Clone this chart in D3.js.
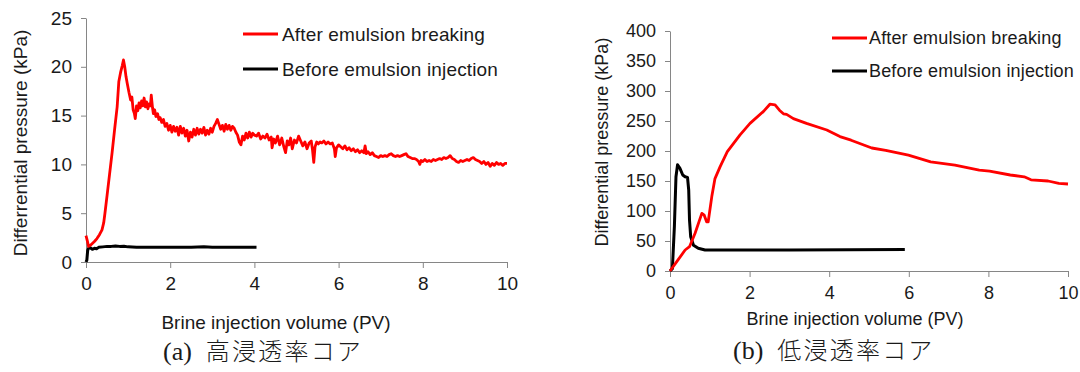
<!DOCTYPE html>
<html>
<head>
<meta charset="utf-8">
<script src="https://cdn.jsdelivr.net/npm/d3@7"></script>
<style>
  body { margin: 0; background: #fff; }
  text { font-family: "Liberation Sans", Arial, sans-serif; fill: #1a1a1a; }
  .axis path, .axis line { stroke: #868686; }
</style>
</head>
<body>
<svg id="chart" width="1080" height="372"></svg>
<script>
// panel (a) high permeability core
const afterA = [
  [0,2.7],[0.03,2.2],[0.06,1.6],[0.1,1.7],[0.15,1.9],[0.2,2.1],[0.26,2.4],[0.32,2.8],[0.38,3.3],[0.42,4.0],
  [0.45,5.0],[0.5,6.8],[0.56,9.0],[0.62,11.2],[0.68,13.6],[0.74,15.9],[0.78,18.5],[0.82,19.4],[0.86,20.1],[0.89,20.7],
  [0.92,20.0],[0.95,19.0],[0.98,18.3],[1.02,17.4],[1.06,16.6],[1.09,16.9],[1.12,15.6],[1.15,15.2],[1.17,14.7],[1.2,16.0],
  [1.23,15.5],[1.26,16.3],[1.29,15.8],[1.32,16.5],[1.35,16.0],[1.38,16.8],[1.41,15.9],[1.44,16.4],[1.47,15.7],[1.5,16.2],
  [1.53,16.0],[1.55,17.1],[1.58,15.8],[1.6,15.2],[1.63,15.6],[1.66,14.9],[1.7,15.2],[1.73,14.6],[1.76,14.8],[1.8,14.3],
  [1.84,14.6],[1.88,13.9],[1.92,14.2],[1.96,13.5],[2.0,14.0],[2.04,13.3],[2.08,13.9],[2.12,13.4],[2.16,13.8],[2.2,13.0],
  [2.24,13.9],[2.28,13.2],[2.32,13.7],[2.36,12.9],[2.4,13.5],[2.44,12.4],[2.48,13.3],[2.52,12.8],[2.56,13.6],[2.6,13.0],
  [2.64,13.7],[2.68,13.1],[2.72,13.6],[2.76,13.2],[2.8,13.8],[2.84,13.0],[2.88,13.5],[2.92,13.1],[2.96,13.7],[3.0,13.3],
  [3.04,13.9],[3.08,14.2],[3.12,14.6],[3.16,14.1],[3.2,13.6],[3.24,14.0],[3.28,13.4],[3.32,14.1],[3.36,13.6],[3.4,14.0],
  [3.44,13.5],[3.48,13.9],[3.52,13.7],[3.56,13.3],[3.6,13.0],[3.64,12.3],[3.68,12.0],[3.72,12.9],[3.76,12.5],[3.8,13.2],
  [3.84,12.7],[3.88,13.3],[3.92,12.8],[3.96,13.2],[4.0,13.0],[4.05,12.9],[4.1,13.2],[4.15,12.6],[4.2,12.9],[4.25,12.7],
  [4.3,13.1],[4.35,12.5],[4.4,12.8],[4.42,11.7],[4.46,12.6],[4.5,12.2],[4.55,12.9],[4.6,12.0],[4.65,12.7],[4.7,11.8],
  [4.74,11.2],[4.78,12.4],[4.82,12.0],[4.86,12.7],[4.9,11.6],[4.95,12.5],[5.0,12.2],[5.05,12.9],[5.1,12.4],[5.15,11.9],
  [5.2,12.3],[5.25,11.6],[5.3,12.2],[5.35,12.4],[5.38,11.5],[5.41,10.2],[5.44,11.8],[5.48,12.3],[5.52,12.1],[5.56,12.3],
  [5.6,12.2],[5.65,12.4],[5.7,12.1],[5.75,12.3],[5.8,12.1],[5.85,12.2],[5.9,11.6],[5.92,10.8],[5.95,11.7],[6.0,12.0],
  [6.05,11.8],[6.1,11.6],[6.15,11.9],[6.2,11.5],[6.25,11.7],[6.3,11.4],[6.35,11.6],[6.4,11.3],[6.45,11.5],[6.5,11.2],
  [6.55,11.4],[6.6,11.2],[6.63,11.9],[6.66,11.1],[6.7,11.3],[6.75,11.0],[6.8,11.2],[6.85,10.9],[6.9,10.8],[6.95,10.7],
  [7.0,10.9],[7.05,10.8],[7.1,10.9],[7.15,10.8],[7.2,11.0],[7.25,11.1],[7.3,10.9],[7.35,10.8],[7.4,10.9],[7.45,10.8],
  [7.5,10.9],[7.55,11.0],[7.6,11.1],[7.65,10.8],[7.7,10.7],[7.75,10.6],[7.8,10.6],[7.85,10.5],[7.9,10.3],[7.93,10.0],
  [7.96,10.4],[8.0,10.3],[8.05,10.5],[8.1,10.3],[8.15,10.4],[8.2,10.3],[8.25,10.5],[8.3,10.4],[8.35,10.5],[8.4,10.6],
  [8.45,10.5],[8.5,10.7],[8.55,10.6],[8.6,10.7],[8.65,10.9],[8.7,10.6],[8.75,10.5],[8.8,10.3],[8.85,10.2],[8.9,10.4],
  [8.95,10.3],[9.0,10.4],[9.05,10.5],[9.1,10.4],[9.15,10.6],[9.2,10.7],[9.25,10.5],[9.3,10.4],[9.35,10.3],[9.4,10.1],
  [9.45,10.3],[9.5,10.0],[9.55,10.2],[9.6,9.8],[9.65,10.1],[9.7,9.9],[9.75,10.2],[9.8,10.0],[9.85,10.1],[9.9,9.9],
  [9.95,10.1],[10.0,10.1]
]
const beforeA = [
  [0,0],[0.02,0.2],[0.04,1.2],[0.06,1.4],[0.1,1.45],[0.15,1.3],[0.2,1.4],[0.25,1.35],[0.3,1.5],[0.4,1.55],
  [0.5,1.6],[0.6,1.6],[0.7,1.65],[0.8,1.6],[0.9,1.62],[1.0,1.55],[1.2,1.52],[1.5,1.5],[2.0,1.5],[2.5,1.52],
  [2.8,1.55],[3.0,1.5],[3.5,1.52],[4.0,1.5],[4.05,1.5]
]

// panel (b) low permeability core
const afterB = [
  [0,0],[0.17,15.6],[0.38,35],[0.49,40.5],[0.63,62.8],[0.8,96],[0.86,93],[0.92,82],[0.96,82],[1.05,124],
  [1.13,154],[1.26,174],[1.44,199],[1.76,227],[2.01,246],[2.35,266],[2.51,278],[2.64,277],[2.75,268],[2.85,262],
  [2.93,261],[3.1,254],[3.43,246],[3.94,235],[4.27,224],[4.55,218],[5.07,205],[5.42,201],[5.99,193],[6.55,182],
  [7.16,176.5],[7.77,168],[8.03,166.6],[8.55,160],[8.9,157],[9.07,152],[9.5,150],[9.77,146],[10,145]
]
const beforeB = [
  [0,0],[0.06,4],[0.11,74],[0.15,157],[0.19,177],[0.25,171],[0.32,160],[0.38,157],[0.44,156],[0.47,135],
  [0.49,85],[0.52,57],[0.59,43],[0.71,38],[0.88,35],[1.5,35],[3,35],[4.5,35.5],[5.9,36]
]

const xTicks = [0, 2, 4, 6, 8, 10]
const yTicksA = [0, 5, 10, 15, 20, 25]
const yTicksB = [0, 50, 100, 150, 200, 250, 300, 350, 400]
const legendNames = ['After emulsion breaking', 'Before emulsion injection']
const xTitle = 'Brine injection volume (PV)'
const yTitleA = 'Differrential pressure (kPa)'
const yTitleB = 'Differential pressure (kPa)'
const captionA = ['(a)', '高浸透率コア']
const captionB = ['(b)', '低浸透率コア']

const svg = d3.select('#chart')

function panel(o) {
  const x = d3.scaleLinear().domain([0, 10]).range(o.xr)
  const y = d3.scaleLinear().domain(o.yd).range(o.yr)
  const g = svg.append('g')

  g.append('g')
      .attr('class', 'axis')
      .attr('transform', 'translate(0,' + o.yr[0] + ')')
      .call(d3.axisBottom(x).tickValues(xTicks).tickSize(6).tickPadding(o.xpad).tickSizeOuter(0))
      .call(a => a.selectAll('text').attr('font-size', o.fs).attr('fill', '#1a1a1a'))

  g.append('g')
      .attr('class', 'axis')
      .attr('transform', 'translate(' + o.xr[0] + ',0)')
      .call(d3.axisLeft(y).tickValues(o.yt).tickSize(5).tickPadding(9).tickSizeOuter(0))
      .call(a => a.selectAll('text').attr('font-size', o.fs).attr('fill', '#1a1a1a'))

  const line = d3.line().x(d => x(d[0])).y(d => y(d[1]))
  g.append('path').datum(o.before).attr('d', line)
      .attr('fill', 'none').attr('stroke', '#000').attr('stroke-width', 3).attr('stroke-linejoin', 'round')
  g.append('path').datum(o.after).attr('d', line)
      .attr('fill', 'none').attr('stroke', '#ff0000').attr('stroke-width', 2.8).attr('stroke-linejoin', 'round')

  // legend
  const colors = ['#ff0000', '#000']
  legendNames.forEach((name, i) => {
    const ly = o.leg[1] + i * o.leg[3]
    g.append('line').attr('x1', o.leg[0]).attr('x2', o.leg[0] + 35).attr('y1', ly).attr('y2', ly)
        .attr('stroke', colors[i]).attr('stroke-width', 3)
    g.append('text').attr('x', o.leg[2]).attr('y', ly).attr('dy', '0.35em')
        .attr('font-size', o.fs).attr('letter-spacing', 0.15).text(name)
  })

  g.append('text')
      .attr('x', o.xt[0]).attr('y', o.xt[1]).attr('dy', '0.35em')
      .attr('text-anchor', 'middle').attr('font-size', o.fs)
      .text(xTitle)

  g.append('text')
      .attr('transform', 'translate(' + o.yti[0] + ',' + o.yti[1] + ') rotate(-90)')
      .attr('dy', '0.35em')
      .attr('text-anchor', 'middle').attr('font-size', o.fs)
      .text(o.ytitle)

  // caption: serif label plus Japanese core name
  const cap = g.append('text')
      .attr('x', o.cap[0]).attr('y', o.cap[1]).attr('dy', '0.35em')
  cap.append('tspan').attr('font-family', '"Liberation Serif", serif').attr('font-size', 26).text(o.caption[0])
  cap.append('tspan').attr('dx', 14).attr('font-family', '"Noto Sans CJK JP", sans-serif')
      .attr('font-size', 24).attr('font-weight', 300).attr('letter-spacing', 2.2).text(o.caption[1])
}

panel({
  xr: [86, 507], yr: [262, 18], yd: [0, 25], yt: yTicksA, fs: 19, xpad: 9,
  after: afterA, before: beforeA,
  leg: [243, 34, 282, 35],
  xt: [276, 322], yti: [20, 143], ytitle: yTitleA,
  cap: [163, 354], caption: captionA
})

panel({
  xr: [670, 1068], yr: [271, 31], yd: [0, 400], yt: yTicksB, fs: 18, xpad: 9,
  after: afterB, before: beforeB,
  leg: [832, 38, 869, 33],
  xt: [855, 319], yti: [602, 142], ytitle: yTitleB,
  cap: [733, 353], caption: captionB
})
</script>
</body>
</html>
